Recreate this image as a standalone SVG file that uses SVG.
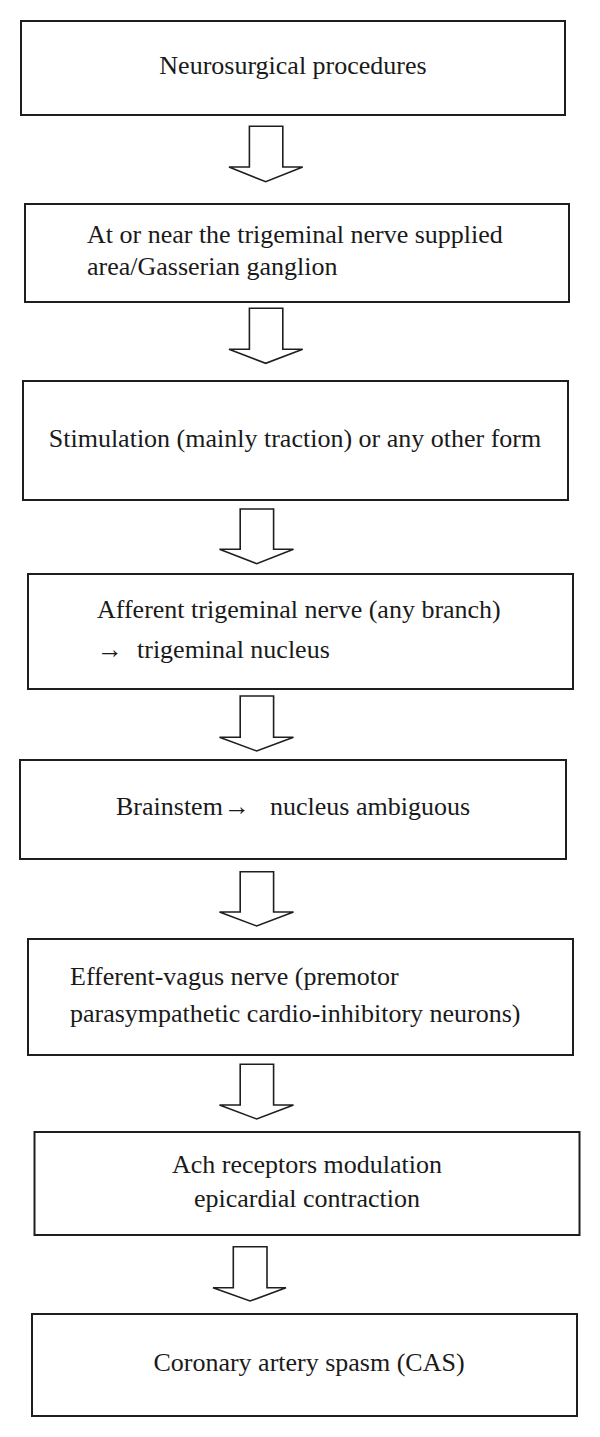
<svg xmlns="http://www.w3.org/2000/svg" width="600" height="1437" viewBox="0 0 600 1437">
<style>
.box{fill:#fff;stroke:#1e1e1e;stroke-width:2}
.arr{fill:#fff;stroke:#1e1e1e;stroke-width:1.6;stroke-linejoin:miter}
text{font-family:"Liberation Serif","Times New Roman",serif;font-size:26px;fill:#1a1a1a}
.c{text-anchor:middle}
</style>
<rect width="600" height="1437" fill="#fff"/>
<g id="n1"><rect class="box" x="21" y="21" width="544" height="94"/><text class="c" x="293" y="74">Neurosurgical procedures</text></g>
<g id="n2"><rect class="box" x="25" y="204" width="544" height="98"/><text x="87" y="243">At or near the trigeminal nerve supplied</text><text x="87" y="275">area/Gasserian ganglion</text></g>
<g id="n3"><rect class="box" x="23" y="381" width="545" height="119"/><text class="c" x="295" y="447">Stimulation (mainly traction) or any other form</text></g>
<g id="n4"><rect class="box" x="28" y="574" width="545" height="115"/><text x="97" y="618">Afferent trigeminal nerve (any branch)</text><text y="658"><tspan x="97">→</tspan><tspan x="137">trigeminal nucleus</tspan></text></g>
<g id="n5"><rect class="box" x="20" y="760" width="546" height="99"/><text y="815"><tspan x="116">Brainstem</tspan><tspan x="224">→</tspan><tspan x="270">nucleus ambiguous</tspan></text></g>
<g id="n6"><rect class="box" x="28" y="939" width="545" height="116"/><text x="70" y="985">Efferent-vagus nerve (premotor</text><text x="70" y="1022">parasympathetic cardio-inhibitory neurons)</text></g>
<g id="n7"><rect class="box" x="34.5" y="1132" width="545" height="103"/><text class="c" x="307" y="1173">Ach receptors modulation</text><text class="c" x="307" y="1207">epicardial contraction</text></g>
<g id="n8"><rect class="box" x="32" y="1314" width="545" height="102"/><text class="c" x="309" y="1371">Coronary artery spasm (CAS)</text></g>
<g id="connectors">
<polygon class="arr" points="249.4,126.3 282.8,126.3 282.8,167 302.7,167 265.7,181.7 229,167 249.4,167"/>
<polygon class="arr" points="249.4,308.3 282.8,308.3 282.8,349.3 302.7,349.3 265.7,363.3 229,349.3 249.4,349.3"/>
<polygon class="arr" points="240.2,509 273.6,509 273.6,549.3 293.5,549.3 256.7,563.7 219.5,549.3 240.2,549.3"/>
<polygon class="arr" points="240.2,696 273.6,696 273.6,737.3 293.5,737.3 256.7,751 219.5,737.3 240.2,737.3"/>
<polygon class="arr" points="240.2,871.7 273.6,871.7 273.6,912 293.5,912 256.7,926 219.5,912 240.2,912"/>
<polygon class="arr" points="240.2,1064.3 273.6,1064.3 273.6,1105 293.5,1105 256.7,1119 219.5,1105 240.2,1105"/>
<polygon class="arr" points="233.3,1246.7 267,1246.7 267,1287.7 286,1287.7 250,1301 213,1287.7 233.3,1287.7"/>
</g>
</svg>
